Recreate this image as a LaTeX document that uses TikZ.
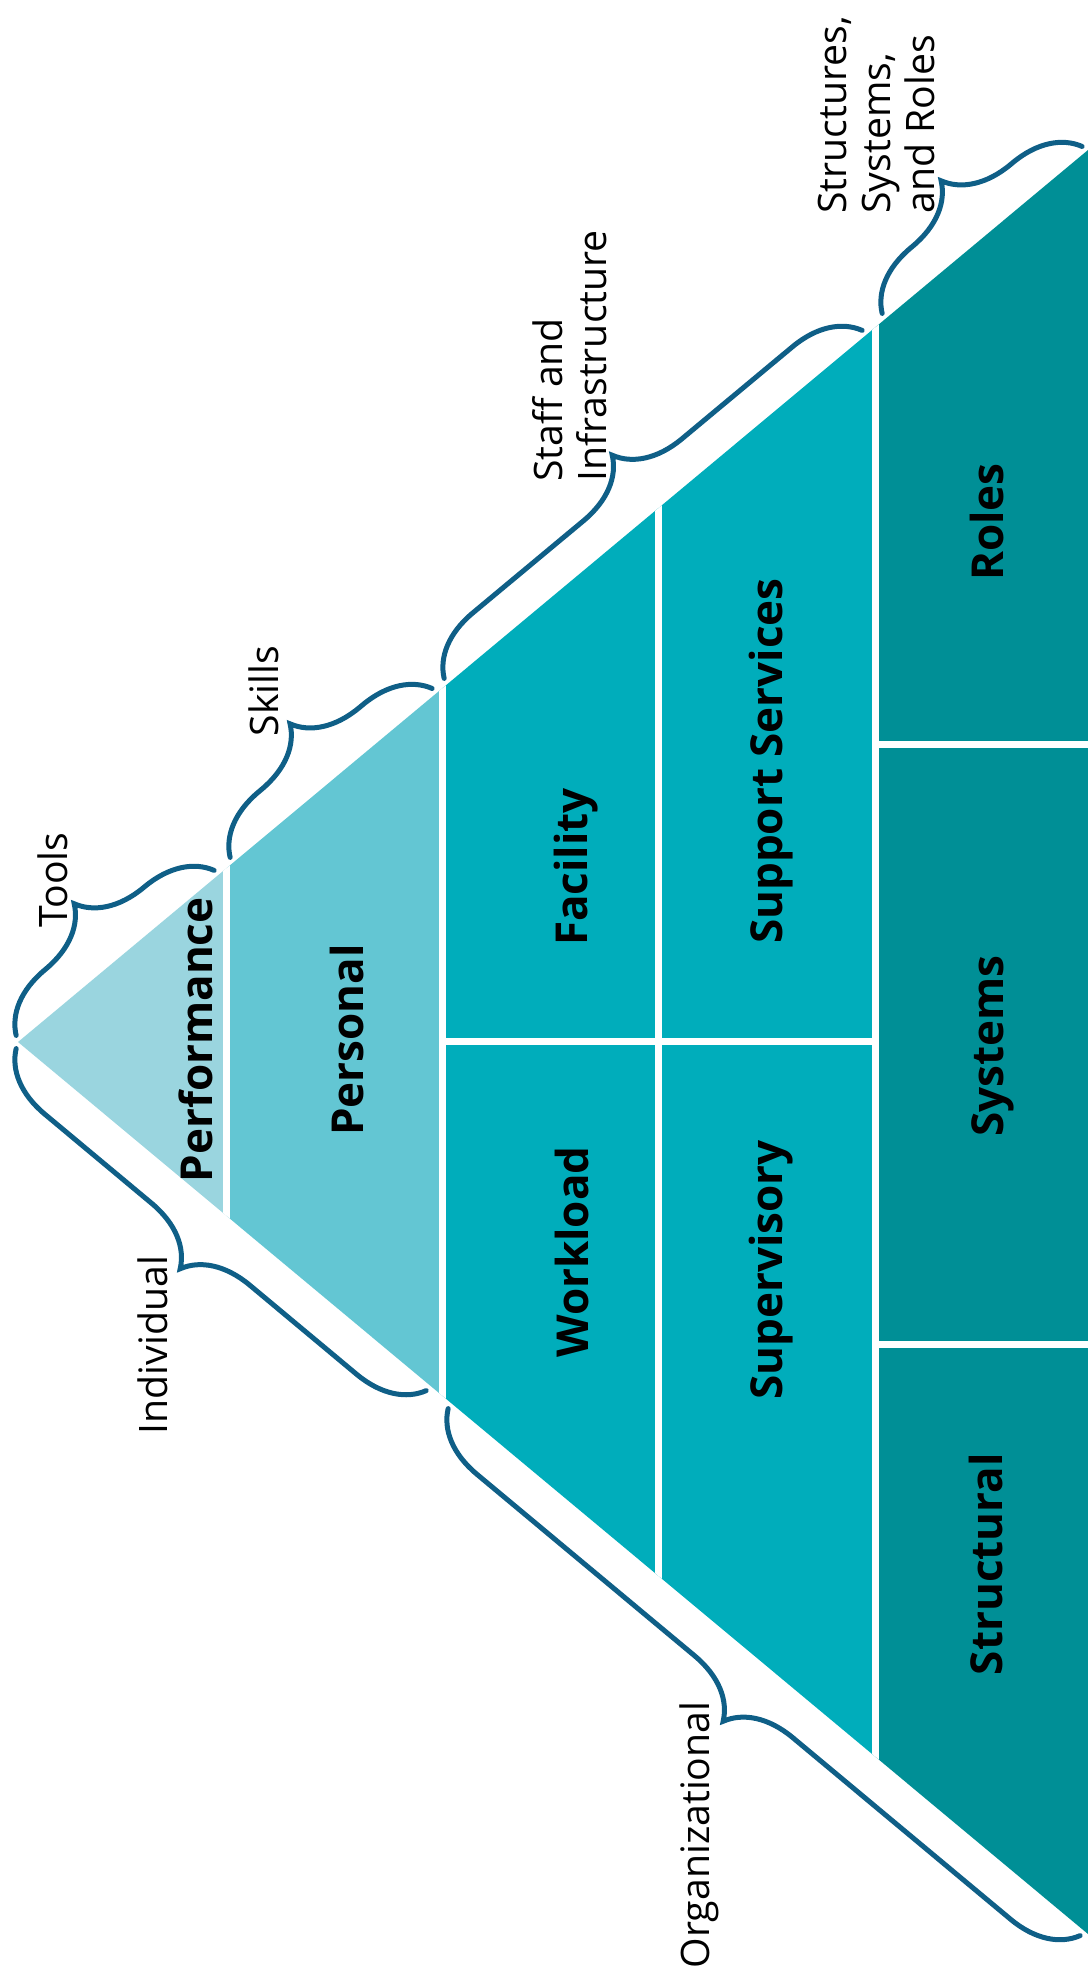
\documentclass[tikz,border=0pt]{standalone}
\usepackage{fontspec}
\setmainfont{Open Sans}
\usepackage{tikz}
\usetikzlibrary{decorations.pathreplacing}
\definecolor{tealA}{HTML}{9AD5DF}
\definecolor{tealB}{HTML}{63C6D3}
\definecolor{tealC}{HTML}{00ADBB}
\definecolor{tealD}{HTML}{008F96}
\definecolor{braceblue}{HTML}{0F5F87}
\tikzstyle{block}=[font=\bfseries\fontsize{11}{13}\selectfont,rotate=90,anchor=base,inner sep=0pt]
\tikzstyle{side}=[font=\fontsize{9.8}{11}\selectfont,rotate=90,inner sep=0pt]
\tikzstyle{curly}=[draw=braceblue,line width=1.25pt,line cap=round,decorate,decoration={brace,amplitude=16pt,raise=1.5pt}]
\tikzstyle{split}=[white,line width=1.75pt]

\begin{document}
\begin{tikzpicture}[x=0.25pt,y=-0.25pt]
\useasboundingbox (0,0) rectangle (1089,1982);
\coordinate (apex) at (18,1042);
\coordinate (top) at (1088,150);
\coordinate (bot) at (1088,1934);

% layers of the pyramid
\begin{scope}
  \clip (apex) -- (top) -- (bot) -- cycle;
  \fill[tealA] (0,0) rectangle (226,1982);
  \fill[tealB] (226,0) rectangle (442,1982);
  \fill[tealC] (442,0) rectangle (875,1982);
  \fill[tealD] (875,0) rectangle (1089,1982);
  \foreach \x in {226,442,658,875}
    \draw[split] (\x,0) -- (\x,1982);
  \draw[split] (442,1041) -- (875,1041);
  \draw[split] (875,744) -- (1089,744);
  \draw[split] (875,1344) -- (1089,1344);
\end{scope}

\node[block] (performance) at (212,1040) {Performance};
\node[block] (personal) at (363,1040) {Personal};
\node[block] (facility) at (587,867) {Facility};
\node[block] (workload) at (588,1252) {Workload};
\node[block] (support) at (782,761) {Support Services};
\node[block] (supervisory) at (782,1270) {Supervisory};
\node[block] (roles) at (1003,522) {Roles};
\node[block] (systems) at (1003,1046) {Systems};
\node[block] (structural) at (1002,1564) {Structural};

% braces on the upper side
\coordinate (tools-a) at (20,1040);
\coordinate (tools-b) at (218,875);
\coordinate (skills-a) at (234,862);
\coordinate (skills-b) at (436,693);
\coordinate (staff-a) at (448,683);
\coordinate (staff-b) at (866,335);
\coordinate (ssr-a) at (886,318);
\coordinate (ssr-b) at (1086,151);
\draw[curly] (tools-a) -- (tools-b);
\draw[curly] (skills-a) -- (skills-b);
\draw[curly] (staff-a) -- (staff-b);
\draw[curly] (ssr-a) -- (ssr-b);

% braces on the lower side
\coordinate (indiv-a) at (20,1044);
\coordinate (indiv-b) at (430,1386);
\coordinate (org-a) at (452,1404);
\coordinate (org-b) at (1084,1931);
\draw[curly,decoration={mirror}] (indiv-a) -- (indiv-b);
\draw[curly,decoration={mirror}] (org-a) -- (org-b);

\node[side,anchor=base] (tools) at (67,880) {Tools};
\node[side,anchor=base] (skills) at (278,691) {Skills};
\node[side,anchor=north,align=left] (staff) at (532,356) {Staff and\\Infrastructure};
\node[side,anchor=north,align=left] (ssr) at (817,115) {Structures,\\Systems,\\and Roles};
\node[side,anchor=base] (individual) at (167,1345) {Individual};
\node[side,anchor=base] (organizational) at (709,1835) {Organizational};
\end{tikzpicture}
\end{document}
